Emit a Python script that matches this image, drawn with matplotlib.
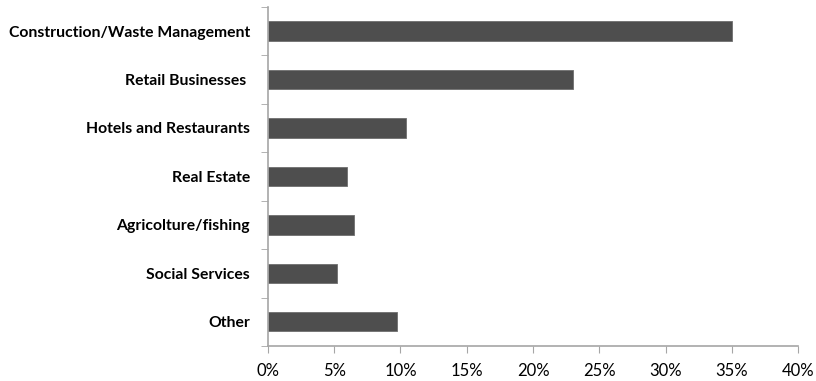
import matplotlib
matplotlib.use("Agg")
import matplotlib.pyplot as plt
from matplotlib.ticker import FixedLocator, PercentFormatter

sectors = ["Construction/Waste Management", "Retail Businesses ", "Hotels and Restaurants",
           "Real Estate", "Agricolture/fishing", "Social Services", "Other"]
shares = [35.0, 23.0, 10.4, 6.0, 6.5, 5.2, 9.7]

plt.rcParams['font.family'] = ['Lato', 'DejaVu Sans']

fig = plt.figure(figsize=(8.16, 3.81), dpi=100)
ax = fig.add_axes([0.3284, 0.092, 0.6496, 0.890])

pos = list(range(len(sectors)))[::-1]
ax.barh(pos, shares, height=0.4, color='#4e4e4e', edgecolor='#6e6e6e', linewidth=0.6)

ax.set_xlim(0, 40)
ax.set_ylim(-0.5, len(sectors) - 0.5)
ax.set_xticks(range(0, 41, 5))
ax.xaxis.set_major_formatter(PercentFormatter(decimals=0))
ax.set_yticks(pos)
ax.set_yticklabels(sectors, fontweight='bold', fontsize=11.3)
ax.yaxis.set_minor_locator(FixedLocator([p + 0.5 for p in range(-1, len(sectors))]))

for s in ['top', 'right']:
    ax.spines[s].set_visible(False)
for s in ['left', 'bottom']:
    ax.spines[s].set_color('#a6a6a6')
    ax.spines[s].set_linewidth(1.2)

ax.tick_params(axis='x', length=5, color='#a6a6a6', labelsize=12, pad=7)
ax.tick_params(axis='y', which='major', length=0, pad=13)
ax.tick_params(axis='y', which='minor', length=5, color='#a6a6a6')

fig.savefig("out.png", dpi=100)
